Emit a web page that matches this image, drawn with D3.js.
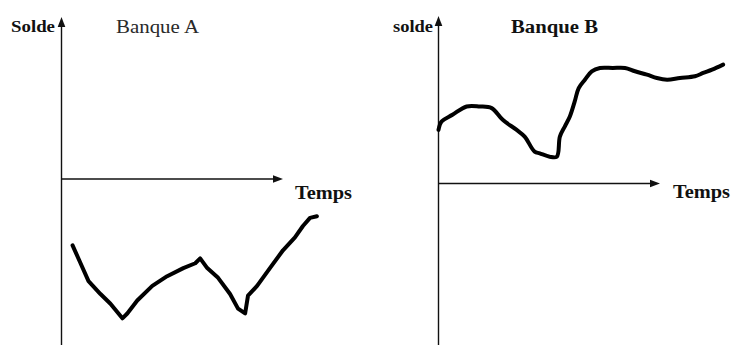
<!DOCTYPE html>
<html>
<head>
<meta charset="utf-8">
<script src="https://cdn.jsdelivr.net/npm/d3@7"></script>
<style>
  body { margin: 0; background: #fff; }
  svg { display: block; }
</style>
</head>
<body>
<svg id="chart"></svg>
<script>
// temps: 0 = origin, 100 = arrow tip ; solde: 0 = time axis, 100 = top of solde axis
const tempsA = [5.0, 8.6, 12.2, 17.6, 22.1, 27.5, 29.7, 34.2, 41.0, 47.7, 55.0, 60.4, 62.6, 65.8, 70.7, 76.1, 79.7, 82.9, 84.2, 88.3, 94.1, 100, 105.4, 109.0, 112.2, 115.3];
const soldeA = [-41, -52, -63, -71, -77, -86, -83, -75, -66, -60, -55, -52, -49, -55, -61, -71, -80, -83, -72, -66, -55, -44, -36, -29, -24, -23];

const tempsB = [0, 1.4, 6.3, 12.7, 18.6, 24.0, 29.0, 35.3, 38.9, 43.4, 45.7, 50.2, 53.4, 54.8, 57.0, 59.3, 61.5, 63.3, 66.1, 69.2, 72.9, 78.7, 84.2, 88.7, 94.1, 98.6, 103.2, 109.0, 115.8, 119.5, 123.5, 128.5];
const soldeB = [32, 37, 41, 46, 46, 45, 38, 32, 28, 19, 18, 16, 16, 28, 34, 40, 49, 57, 62, 67, 69, 69, 69, 67, 65, 63, 62, 63, 64, 66, 68, 71];

const titles = ["Banque A", "Banque B"];
const yLabels = ["Solde", "solde"];
const xLabel = "Temps";

const W = 733, H = 345;
const svg = d3.select("#chart").attr("width", W).attr("height", H);

// layout of each panel
const panels = [
  {temps: tempsA, solde: soldeA, x0: 61.5, x1: 283, yAxis: 179, yTop: 17,
   title: titles[0], titleBold: false, titleX: 116, titleW: 83,
   yLab: yLabels[0], yLabX: 11, yLabW: 44, tempsX: 295, tempsY: 199,
   curve: d3.curveLinear},
  {temps: tempsB, solde: soldeB, x0: 438.5, x1: 660, yAxis: 183.5, yTop: 16,
   title: titles[1], titleBold: true, titleX: 511, titleW: 87,
   yLab: yLabels[1], yLabX: 393, yLabW: 40, tempsX: 673, tempsY: 198,
   curve: d3.curveCatmullRom}
];

const font = "'Liberation Serif', 'Times New Roman', serif";

panels.forEach(p => {
  const x = d3.scaleLinear().domain([0, 100]).range([p.x0, p.x1]);
  const y = d3.scaleLinear().domain([0, 100]).range([p.yAxis, p.yTop]);
  const g = svg.append("g");

  // solde axis (vertical)
  g.append("line")
    .attr("x1", x(0)).attr("x2", x(0))
    .attr("y1", H).attr("y2", y(100) + 6)
    .attr("stroke", "#111").attr("stroke-width", 1.4);
  g.append("path")
    .attr("d", `M${x(0)},${y(100)} L${x(0) - 3.8},${y(100) + 10} L${x(0) + 3.8},${y(100) + 10} Z`)
    .attr("fill", "#111");

  // temps axis (horizontal)
  g.append("line")
    .attr("x1", x(0)).attr("x2", x(100) - 6)
    .attr("y1", y(0)).attr("y2", y(0))
    .attr("stroke", "#111").attr("stroke-width", 1.4);
  g.append("path")
    .attr("d", `M${x(100)},${y(0)} L${x(100) - 10},${y(0) - 3.8} L${x(100) - 10},${y(0) + 3.8} Z`)
    .attr("fill", "#111");

  // balance curve
  const line = d3.line()
    .x((d, i) => x(p.temps[i]))
    .y((d, i) => y(p.solde[i]))
    .curve(p.curve);
  g.append("path")
    .datum(p.temps)
    .attr("d", line)
    .attr("fill", "none")
    .attr("stroke", "#000")
    .attr("stroke-width", 4)
    .attr("stroke-linejoin", "round")
    .attr("stroke-linecap", "round");

  // labels
  g.append("text")
    .attr("x", p.yLabX).attr("y", 32)
    .attr("font-family", font).attr("font-weight", "bold").attr("font-size", 17)
    .attr("textLength", p.yLabW).attr("lengthAdjust", "spacingAndGlyphs")
    .attr("fill", "#111")
    .text(p.yLab);
  g.append("text")
    .attr("x", p.titleX).attr("y", 32.5)
    .attr("font-family", font).attr("font-weight", p.titleBold ? "bold" : "normal")
    .attr("font-size", p.titleBold ? 18 : 19)
    .attr("textLength", p.titleW).attr("lengthAdjust", "spacingAndGlyphs")
    .attr("fill", p.titleBold ? "#111" : "#2a2a2a")
    .text(p.title);
  g.append("text")
    .attr("x", p.tempsX).attr("y", p.tempsY)
    .attr("font-family", font).attr("font-weight", "bold").attr("font-size", 18)
    .attr("textLength", 57).attr("lengthAdjust", "spacingAndGlyphs")
    .attr("fill", "#111")
    .text(xLabel);
});
</script>
</body>
</html>
